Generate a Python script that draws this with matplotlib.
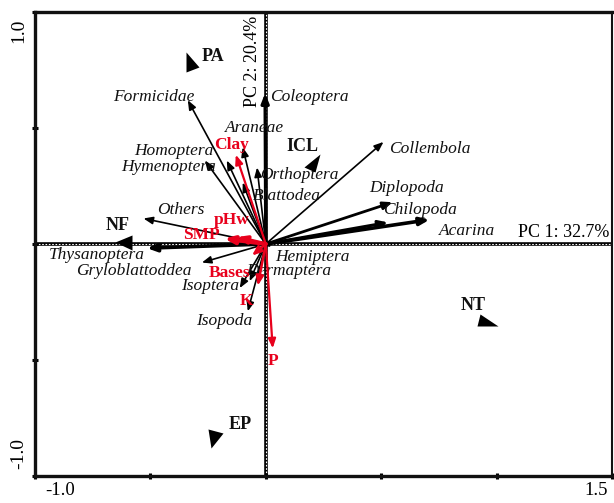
import matplotlib
matplotlib.use("Agg")
import matplotlib.pyplot as plt

plt.rcParams['font.family'] = ['Liberation Serif', 'DejaVu Serif']

# ---- data (PCA biplot scores) ----
species = ["Formicidae", "Coleoptera", "Araneae", "Homoptera", "Hymenoptera",
           "Orthoptera", "Blattodea", "Collembola", "Diplopoda", "Chilopoda",
           "Acarina", "Others", "Thysanoptera", "Gryloblattoddea", "Isoptera",
           "Isopoda", "Hemiptera", "Dermaptera"]
species_pc1 = [-0.338, -0.003, -0.100, -0.169, -0.264, -0.038, -0.100, 0.510, 0.550,
               0.530, 0.710, -0.530, -0.515, -0.277, -0.113, -0.078, 0.025, -0.070]
species_pc2 = [0.620, 0.650, 0.417, 0.360, 0.360, 0.330, 0.265, 0.440, 0.180,
               0.093, 0.105, 0.110, -0.018, -0.080, -0.190, -0.290, -0.012, -0.160]

env = ["Clay", "pHw", "SMP", "Bases", "K", "P"]
env_pc1 = [-0.130, -0.125, -0.180, -0.060, -0.035, 0.030]
env_pc2 = [0.385, 0.030, 0.024, -0.050, -0.180, -0.450]

sites = ["PA", "NF", "ICL", "NT", "EP"]
site_pc1 = [-0.330, -0.610, 0.205, 0.950, -0.225]
site_pc2 = [0.780, 0.005, 0.345, -0.335, -0.830]

x_ticks = [-1.0, -0.5, 0.0, 0.5, 1.0, 1.5]
y_ticks = [-1.0, -0.5, 0.0, 0.5, 1.0]
pc1_label = "PC 1: 32.7%"
pc2_label = "PC 2: 20.4%"

# ---- layout / style ----
species_label_pos = {
    "Formicidae": (-0.485, 0.633), "Coleoptera": (0.19, 0.633), "Araneae": (-0.048, 0.50),
    "Homoptera": (-0.40, 0.40), "Hymenoptera": (-0.42, 0.33), "Orthoptera": (0.147, 0.296),
    "Blattodea": (0.09, 0.205), "Collembola": (0.71, 0.41), "Diplopoda": (0.61, 0.24),
    "Chilopoda": (0.667, 0.145), "Acarina": (0.87, 0.058), "Others": (-0.37, 0.145),
    "Thysanoptera": (-0.73, -0.048), "Gryloblattoddea": (-0.57, -0.118),
    "Isoptera": (-0.24, -0.183), "Isopoda": (-0.18, -0.333), "Hemiptera": (0.20, -0.054),
    "Dermaptera": (0.10, -0.118),
}
species_lw = {"Coleoptera": 2.4, "Thysanoptera": 2.6, "Acarina": 2.6, "Chilopoda": 2.2,
              "Diplopoda": 2.0}
env_label_pos = {"Clay": (-0.147, 0.425), "pHw": (-0.147, 0.105), "SMP": (-0.277, 0.037),
                 "Bases": (-0.156, -0.127), "K": (-0.082, -0.244), "P": (0.03, -0.503)}
env_lw = {"Clay": 1.6, "pHw": 2.6, "SMP": 3.0, "Bases": 1.8, "K": 1.8, "P": 1.6}
site_label_pos = {"PA": (-0.23, 0.81), "NF": (-0.64, 0.08), "ICL": (0.16, 0.42),
                  "NT": (0.90, -0.265), "EP": (-0.11, -0.78)}
site_marker_verts = {
    "PA": [(-4, 11), (9, -4), (-4, -9)],
    "NF": [(-10, 1), (7, 8), (7, -7)],
    "ICL": [(-9, -3), (7, 10), (2, -8)],
    "NT": [(-5, 8), (13, -4), (-8, -4)],
    "EP": [(-6, 8), (9, 4), (-3, -11)],
}
RED = "#e8001c"

fig = plt.figure(figsize=(6.14, 5.03), dpi=100)
ax = fig.add_axes([35 / 614, 1 - 476 / 503, 577 / 614, 464 / 503])
ax.set_xlim(x_ticks[0], x_ticks[-1])
ax.set_ylim(y_ticks[0], y_ticks[-1])

# zero axes (dotted double line look)
ax.axhline(0, color="black", lw=2.6, zorder=1)
ax.axhline(0, color="white", lw=0.8, ls=(0, (1.5, 1.5)), zorder=1.1)
ax.axvline(0, color="black", lw=2.6, zorder=1)
ax.axvline(0, color="white", lw=0.8, ls=(0, (1.5, 1.5)), zorder=1.1)

def arrow(x, y, color, lw, z):
    ax.annotate("", xy=(x, y), xytext=(0, 0),
                arrowprops=dict(arrowstyle="-|>,head_length=0.55,head_width=0.22",
                                color=color, lw=lw, shrinkA=0, shrinkB=0),
                zorder=z)

for name, x, y in zip(species, species_pc1, species_pc2):
    arrow(x, y, "black", species_lw.get(name, 1.2), 3)
    lx, ly = species_label_pos[name]
    ax.text(lx, ly, name, fontsize=12.5, fontstyle="italic", ha="center", va="center",
            color="#111111", zorder=4)

for name, x, y in zip(env, env_pc1, env_pc2):
    arrow(x, y, RED, env_lw[name], 5)
    lx, ly = env_label_pos[name]
    ax.text(lx, ly, name, fontsize=12.5, fontweight="bold", ha="center", va="center",
            color=RED, zorder=6)

for name, x, y in zip(sites, site_pc1, site_pc2):
    verts = site_marker_verts[name]
    ext = max(max(abs(a), abs(b)) for a, b in verts)
    ax.plot([x], [y], marker=verts, markersize=2 * ext * 0.72, color="black",
            markeredgewidth=0, linestyle="none", zorder=7)
    lx, ly = site_label_pos[name]
    ax.text(lx, ly, name, fontsize=13, fontweight="bold", ha="center", va="center",
            color="#111111", zorder=7)

ax.text(1.49, 0.012, pc1_label, fontsize=13, ha="right", va="bottom", zorder=4)
ax.text(-0.056, 0.985, pc2_label, fontsize=13, rotation=90, ha="center", va="top", zorder=4)

# ticks and frame
ax.set_xticks(x_ticks)
ax.set_yticks(y_ticks)
ax.set_xticklabels([])
ax.set_yticklabels([])
ax.tick_params(direction="inout", length=5, width=2.2, color="black")
for s in ax.spines.values():
    s.set_linewidth(2.4)
    s.set_color("#111111")
ax.spines["right"].set_linewidth(1.5)

ax.text(0.017, -0.040, "-1.0", transform=ax.transAxes, fontsize=13.5, ha="left",
        va="baseline")
ax.text(0.993, -0.040, "1.5", transform=ax.transAxes, fontsize=13.5, ha="right",
        va="baseline")
ax.text(-0.029, 0.985, "1.0", transform=ax.transAxes, fontsize=14, rotation=90,
        ha="center", va="top")
ax.text(-0.029, 0.015, "-1.0", transform=ax.transAxes, fontsize=14, rotation=90,
        ha="center", va="bottom")

fig.savefig("out.png", dpi=100)
